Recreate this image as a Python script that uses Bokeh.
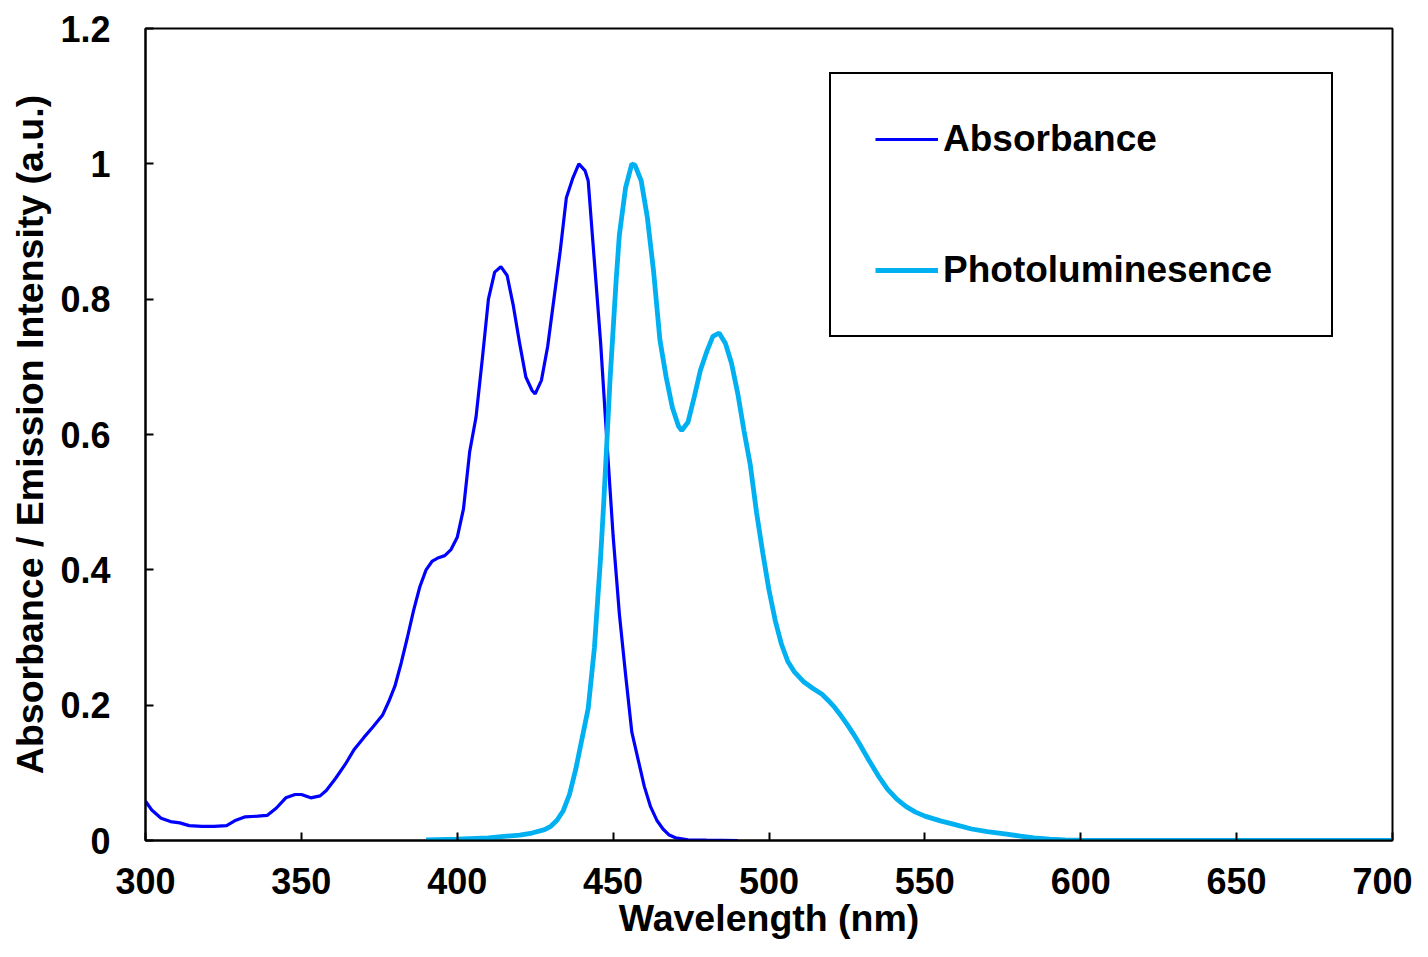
from bokeh.plotting import figure
from bokeh.models import Legend, LegendItem, FixedTicker, CustomJSTickFormatter, Range1d
from bokeh.embed import file_html
from bokeh.resources import INLINE

# Absorbance spectrum (wavelength nm, normalized absorbance)
abs_wl = [300, 302, 305, 308, 311, 314, 318, 322, 326, 329, 332, 336, 339, 342, 345, 348, 350,
          353, 356, 358, 361, 364, 367, 370, 373, 376, 378, 380, 382, 384, 386, 388, 390, 392,
          394, 396, 398, 400, 402, 404, 406, 408, 410, 412, 414, 416, 418, 420, 422, 424, 425,
          427, 429, 431, 433, 435, 437, 439, 441, 442, 444, 446, 448, 450, 452, 454, 456, 458,
          460, 462, 464, 466, 468, 470, 474, 480, 490]
abs_val = [0.058, 0.045, 0.033, 0.028, 0.026, 0.022, 0.021, 0.021, 0.022, 0.030, 0.035, 0.036,
           0.037, 0.048, 0.063, 0.068, 0.068, 0.063, 0.066, 0.074, 0.092, 0.112, 0.135, 0.152,
           0.168, 0.185, 0.205, 0.228, 0.262, 0.300, 0.340, 0.375, 0.400, 0.413, 0.418, 0.421,
           0.430, 0.448, 0.490, 0.575, 0.625, 0.710, 0.800, 0.840, 0.848, 0.835, 0.790, 0.735,
           0.685, 0.665, 0.660, 0.680, 0.730, 0.800, 0.870, 0.950, 0.978, 1.000, 0.990, 0.975,
           0.855, 0.735, 0.590, 0.450, 0.335, 0.245, 0.160, 0.120, 0.080, 0.050, 0.030, 0.017,
           0.008, 0.004, 0.001, 0.0005, 0.0]

# Photoluminescence spectrum (wavelength nm, normalized intensity)
pl_wl = [390, 400, 410, 415, 420, 424, 428, 430, 432, 434, 436, 438, 440, 442, 444, 446, 447,
         448, 449, 450, 451, 452, 454, 456, 457, 459, 461, 463, 465, 467, 469, 471, 472, 474,
         476, 478, 480, 482, 484, 486, 488, 490, 492, 494, 496, 498, 500, 502, 504, 506, 508,
         511, 514, 517, 519, 521, 523, 525, 527, 529, 532, 535, 538, 541, 544, 547, 550, 555,
         560, 565, 570, 575, 580, 585, 590, 595, 600, 620, 700]
pl_val = [0.001, 0.002, 0.004, 0.006, 0.008, 0.011, 0.016, 0.021, 0.030, 0.044, 0.068, 0.105,
          0.150, 0.195, 0.285, 0.420, 0.500, 0.590, 0.680, 0.755, 0.830, 0.895, 0.965, 1.000,
          0.998, 0.975, 0.920, 0.840, 0.740, 0.685, 0.640, 0.612, 0.606, 0.618, 0.655, 0.695,
          0.722, 0.745, 0.750, 0.735, 0.705, 0.660, 0.605, 0.555, 0.485, 0.425, 0.370, 0.325,
          0.290, 0.265, 0.250, 0.235, 0.225, 0.216, 0.207, 0.197, 0.185, 0.172, 0.158, 0.143,
          0.119, 0.096, 0.076, 0.061, 0.050, 0.042, 0.036, 0.029, 0.023, 0.017, 0.013, 0.010,
          0.007, 0.004, 0.002, 0.001, 0.0005, 0.0, 0.0]

x_ticks = [300, 350, 400, 450, 500, 550, 600, 650, 700]
y_ticks = [0, 0.2, 0.4, 0.6, 0.8, 1.0, 1.2]

FONT = "Liberation Sans"

p = figure(width=1412, height=941, output_backend="svg", toolbar_location=None,
           x_range=Range1d(300, 700), y_range=Range1d(0, 1.2),
           min_border_left=145, min_border_right=20, min_border_top=28, min_border_bottom=101)

p.xgrid.visible = False
p.ygrid.visible = False
p.outline_line_color = "black"
p.outline_line_width = 2
p.outline_line_alpha = 1.0
p.background_fill_color = "white"
p.border_fill_color = "white"

r_abs = p.line(abs_wl, abs_val, line_color="#0000FF", line_width=3.2)
r_pl = p.line(pl_wl, pl_val, line_color="#00B0F0", line_width=4.8)

for ax in (p.xaxis[0], p.yaxis[0]):
    ax.axis_line_color = "black"
    ax.axis_line_width = 2
    ax.major_tick_line_color = "black"
    ax.major_tick_line_width = 2
    ax.major_tick_in = 8
    ax.major_tick_out = 0
    ax.minor_tick_line_color = None
    ax.major_label_text_font = FONT
    ax.major_label_text_font_style = "bold"
    ax.major_label_text_font_size = "36px"
    ax.major_label_text_color = "black"
    ax.axis_label_text_font = FONT
    ax.axis_label_text_font_style = "bold"
    ax.axis_label_text_font_size = "37.5px"
    ax.axis_label_text_color = "black"

p.xaxis.ticker = FixedTicker(ticks=x_ticks)
p.yaxis.ticker = FixedTicker(ticks=y_ticks)
p.yaxis.formatter = CustomJSTickFormatter(code="return tick.toFixed(1).replace(/\\.0$/, '');")
p.xaxis.axis_label = "Wavelength (nm)"
p.yaxis.axis_label = "Absorbance / Emission Intensity (a.u.)"
p.xaxis.major_label_standoff = 27
p.yaxis.major_label_standoff = 35
p.xaxis.axis_label_standoff = 0
p.yaxis.axis_label_standoff = 6

legend = Legend(items=[LegendItem(label="Absorbance", renderers=[r_abs]),
                       LegendItem(label="Photoluminesence", renderers=[r_pl])],
                location=(684, 503))
legend.label_text_font = FONT
legend.label_text_font_style = "bold"
legend.label_text_font_size = "37px"
legend.label_text_color = "black"
legend.border_line_color = "black"
legend.border_line_width = 2
legend.border_line_alpha = 1.0
legend.background_fill_color = "white"
legend.background_fill_alpha = 1.0
legend.padding = 44
legend.spacing = 89
legend.glyph_width = 63
legend.glyph_height = 40
legend.label_height = 40
legend.label_standoff = 5
legend.label_width = 344
legend.margin = 0
p.add_layout(legend)

open("out.html", "w").write(file_html(p, INLINE))
